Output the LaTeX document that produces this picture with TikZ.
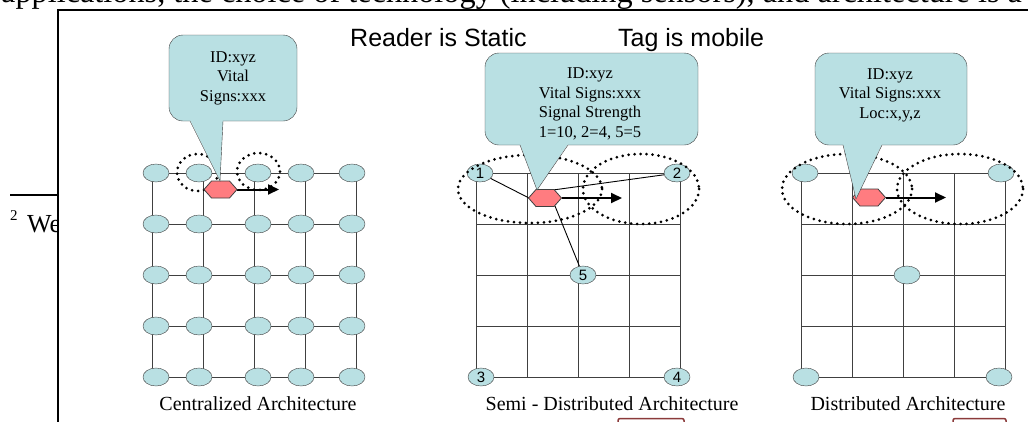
\documentclass[tikz,border=0pt]{standalone}
\usepackage{fontspec}
\setmainfont{Liberation Serif}
\newfontfamily\arialfont{Liberation Sans}
\usepackage{tikz}
\usetikzlibrary{arrows.meta,shapes.geometric,calc}
\definecolor{readerCyan}{HTML}{B9E0E3}
\definecolor{tagRed}{HTML}{FF7C80}
\definecolor{gridGray}{HTML}{404040}
\definecolor{boxRed}{HTML}{8B3A3A}

% speech bubble: left, top, right, bottom, tail base a, tail base b, tail tip
\newcommand{\infoBubble}[7]{%
  \fill[readerCyan,rounded corners=14] (#1,#2) rectangle (#3,#4);
  \fill[readerCyan] (#5,#4-1) -- (#7) -- (#6,#4-1) -- cycle;
  \draw[gridGray,rounded corners=14] (#5,#4) -- (#1,#4) -- (#1,#2) -- (#3,#2) -- (#3,#4) -- (#6,#4);
  \draw[gridGray] (#5,#4) -- (#7) -- (#6,#4);
}

\begin{document}
\begin{tikzpicture}[x=1pt,y=-1pt,
    reader/.style={ellipse,draw=gridGray,fill=readerCyan,minimum width=26,minimum height=18,inner sep=0pt,
      font=\arialfont\fontsize{15}{15}\selectfont},
    gridLine/.style={gridGray,line width=1},
    rangeRing/.style={line width=3,dash pattern=on 0pt off 6pt,line cap=round},
    moveArrow/.style={line width=2,-{Triangle[length=11,width=10]}},
    signalLine/.style={line width=0.9},
    tagHex/.style={draw=gridGray,fill=tagRed,line width=0.8},
    bubbleText/.style={align=center,inner sep=0pt,font=\fontsize{16.5}{19.5}\selectfont},
    titleText/.style={anchor=base west,inner sep=0pt,font=\arialfont\fontsize{25}{30}\selectfont},
    capText/.style={anchor=base,inner sep=0pt,font=\fontsize{20}{24}\selectfont}]
  \useasboundingbox (0,0) rectangle (1028,421);

  % page behind the figure
  \node[anchor=base west,inner sep=0pt,font=\fontsize{32.3}{38}\selectfont] (pageLine) at (1,2)
    {applications, the choice of technology (including sensors), and architecture is a};
  \coordinate (ruleEnd) at (58,195);
  \draw[line width=1.5] (10,195) -- (ruleEnd);
  \node[anchor=base west,inner sep=0pt,font=\fontsize{15}{15}\selectfont] (footMark) at (10,220) {2};
  \node[anchor=base west,inner sep=0pt,font=\fontsize{26}{30}\selectfont] (footText) at (27,232) {We};

  % figure frame
  \fill[white] (58,10) rectangle (1040,440);
  \draw[line width=1.2] (58,440) -- (58,10) -- (1040,10);

  \node[titleText] (readerTitle) at (350,46) {Reader is Static};
  \node[titleText] (tagTitle) at (618,46) {Tag is mobile};

  % grids
  \foreach \gx in {152,476,801}
    \foreach \k in {0,...,4} {
      \draw[gridLine] ({\gx+51*\k},173) -- ({\gx+51*\k},377);
      \draw[gridLine] (\gx,{173+51*\k}) -- ({\gx+204},{173+51*\k});
    }

  % centralized readers
  \foreach \cx [count=\i] in {156,199,258,301,352}
    \foreach \j in {1,...,5}
      \node[reader] (c\i\j) at (\cx,{173+51*(\j-1)}) {};

  % semi-distributed readers
  \node[reader] (m1) at (480,173) {1};
  \node[reader] (m2) at (677,173) {2};
  \node[reader] (m3) at (481,377) {3};
  \node[reader] (m4) at (677,377) {4};
  \node[reader] (m5) at (583,275) {5};

  % distributed readers
  \node[reader] (d1) at (805,173) {};
  \node[reader] (d2) at (1001,173) {};
  \node[reader] (d3) at (806,377) {};
  \node[reader] (d4) at (999,377) {};
  \node[reader] (d5) at (907,275) {};

  % tags
  \coordinate (tagA) at (220.5,189.5);
  \coordinate (tagB) at (545,198);
  \coordinate (tagC) at (869,197.5);

  \draw[signalLine] (m1) -- ($(tagB)+(-16,0)$);
  \draw[signalLine] (m2) -- ($(tagB)+(8,-8)$);
  \draw[signalLine] (m5) -- ($(tagB)+(10,8)$);

  % reader ranges
  \draw[rangeRing] (197.5,172.5) ellipse [x radius=20.5,y radius=18.5];
  \draw[rangeRing] (258.5,171.5) ellipse [x radius=21.5,y radius=18.5];
  \draw[rangeRing] (530,189) ellipse [x radius=72,y radius=34];
  \draw[rangeRing] (641,189) ellipse [x radius=58,y radius=35];
  \draw[rangeRing] (847,189) ellipse [x radius=65,y radius=35];
  \draw[rangeRing] (960,189) ellipse [x radius=63,y radius=35];

  \draw[moveArrow] ($(tagA)+(16.5,0)$) -- ++(42,0);
  \draw[moveArrow] ($(tagB)+(16.5,0)$) -- ++(60.5,0);
  \draw[moveArrow] ($(tagC)+(16.5,0)$) -- ++(60.5,0);

  \foreach \t in {tagA,tagB,tagC}
    \draw[tagHex] ($(\t)+(-16.5,0)$) -- ++(7.5,-8.5) -- ++(18,0) -- ++(7.5,8.5)
      -- ++(-7.5,8.5) -- ++(-18,0) -- cycle;

  % bubbles
  \coordinate (tipA) at (220,181);
  \coordinate (tipB) at (537,190);
  \coordinate (tipC) at (856,199);
  \infoBubble{169}{35}{297}{121}{190}{223}{tipA}
  \infoBubble{485}{53}{698}{145}{520}{568}{tipB}
  \infoBubble{815}{53}{967}{145}{843}{882}{tipC}
  \node[bubbleText] (infoA) at (233,78) {ID:xyz\\Vital\\Signs:xxx};
  \node[bubbleText] (infoB) at (590,104) {ID:xyz\\Vital Signs:xxx\\Signal Strength\\1=10, 2=4, 5=5};
  \node[bubbleText] (infoC) at (890,95) {ID:xyz\\Vital Signs:xxx\\Loc:x,y,z};

  % captions
  \node[capText] (capA) at (258,410) {Centralized Architecture};
  \node[capText] (capB) at (612,410) {Semi - Distributed Architecture};
  \node[capText] (capC) at (908,410) {Distributed Architecture};

  \draw[boxRed,line width=1.5,rounded corners=2] (618,430) -- (618,418.5) -- (684,418.5) -- (684,430);
  \draw[boxRed,line width=1.5,rounded corners=2] (953,430) -- (953,418.5) -- (1006,418.5) -- (1006,430);
\end{tikzpicture}
\end{document}
